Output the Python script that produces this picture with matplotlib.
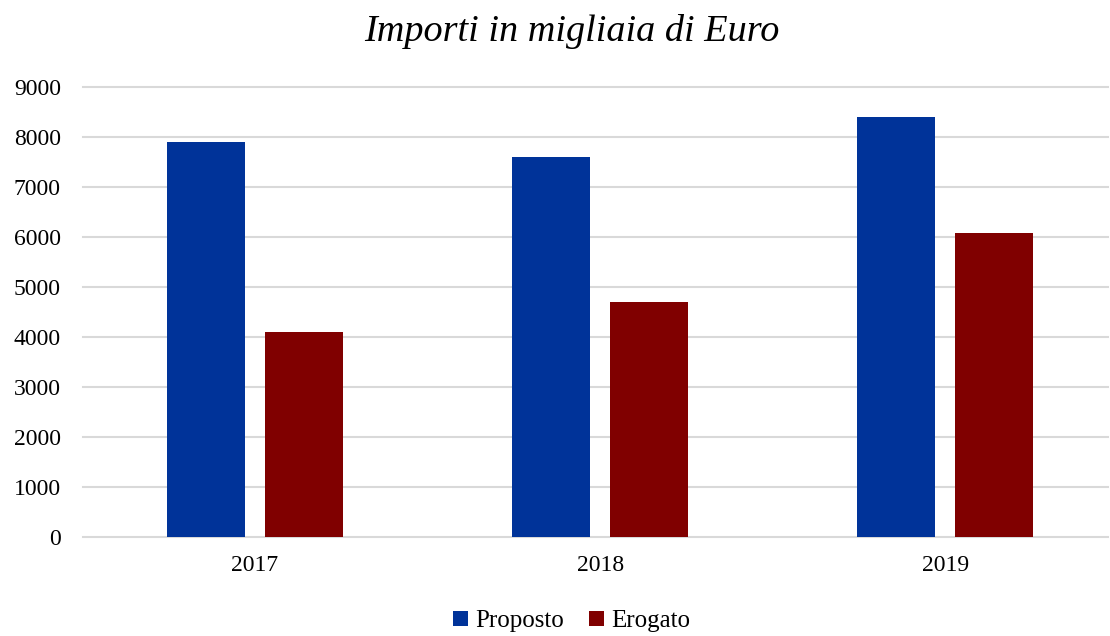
import numpy as np
import matplotlib.pyplot as plt

plt.rcParams['font.family'] = ['Liberation Serif', 'DejaVu Serif']

anni = ['2017', '2018', '2019']
proposto = [7900, 7600, 8400]
erogato = [4100, 4700, 6080]
yticks = [0, 1000, 2000, 3000, 4000, 5000, 6000, 7000, 8000, 9000]

fig = plt.figure(figsize=(11.1, 6.36), dpi=100)
ax = fig.add_axes([83 / 1110, 99 / 636, 1025 / 1110, 450 / 636])

x = np.arange(len(anni))
w = 0.226
ax.bar(x - 0.1425, proposto, w, color='#003399', label='Proposto', zorder=3)
ax.bar(x + 0.1425, erogato, w, color='#800000', label='Erogato', zorder=3)

ax.set_xlim(-0.4986, 2.472)
ax.set_ylim(0, 9000)
ax.set_yticks(yticks)
ax.set_xticks(x)
ax.set_xticklabels(anni)
ax.tick_params(axis='both', length=0, labelsize=17)
ax.tick_params(axis='x', pad=13)
ax.tick_params(axis='y', pad=16)
ax.grid(axis='y', color='#d9d9d9', linewidth=1.5, zorder=0)
for gl in ax.get_ygridlines():
    gl.set_clip_on(False)
for s in ax.spines.values():
    s.set_visible(False)

fig.text(0.515, 0.95, 'Importi in migliaia di Euro', ha='center', va='center',
         fontsize=27.5, style='italic')
fig.legend(loc='center', bbox_to_anchor=(0.515, 0.023), ncol=2, frameon=False,
           fontsize=18, handlelength=0.6, handleheight=0.6, handletextpad=0.3,
           columnspacing=1.0)

fig.savefig('out.png', dpi=100)
